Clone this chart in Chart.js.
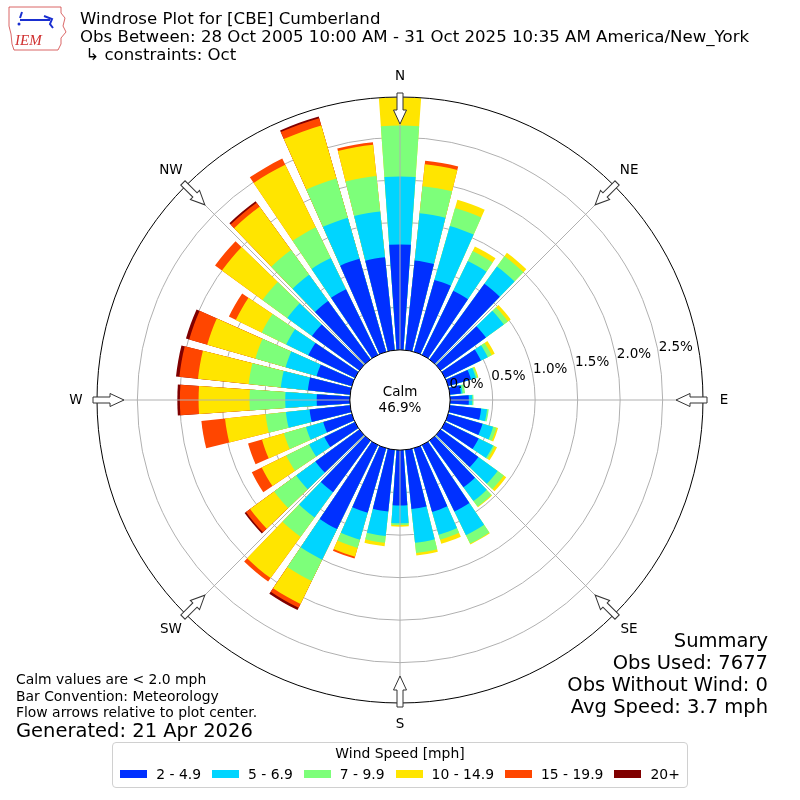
<!DOCTYPE html>
<html>
<head>
<meta charset="utf-8">
<script src="https://cdn.jsdelivr.net/npm/chart.js@4"></script>
<style>
body{margin:0;width:800px;height:800px;position:relative;background:#fff;font-family:"DejaVu Sans",sans-serif;overflow:hidden;color:#000}
#rose{position:absolute;left:0;top:0}
.txt{position:absolute;white-space:pre}
#title{left:80px;top:10px;font-size:16.6px;line-height:18px}
#notes{left:16px;top:671px;font-size:13.9px;line-height:16.5px}
#gen{left:16px;top:719px;font-size:19.5px;line-height:24px}
#summary{right:32px;top:630px;font-size:19.5px;line-height:22px;text-align:right}
#legend{position:absolute;left:112px;top:742px;width:574px;height:44px;border:1px solid #d0d0d0;border-radius:4px;font-size:13.9px;white-space:nowrap}
#legend .ttl{text-align:center;margin-top:2px;height:17px;line-height:17px}
#legend .row{display:flex;justify-content:center;align-items:center;margin-top:3px;height:18px}
#legend .sw{width:27px;height:8px;margin-right:9px}
#legend .it{display:flex;align-items:center;margin-right:11px}
#legend .it:last-child{margin-right:0}
#logo{position:absolute;left:6px;top:4px}
</style>
</head>
<body>
<canvas id="rose" width="800" height="800"></canvas>
<svg id="logo" width="62" height="50" viewBox="0 0 62 50">
  <path d="M3 3 L55 3 L55 9 L59 14 L57 22 L60 28 L55 34 L55 40 L52 46 L8 46 L6 40 L5 30 L3 22 L3 10 Z" fill="none" stroke="#d04040" stroke-width="0.8"/>
  <path d="M14 14 L16 8 M14 16 L44 16 M38 12 L46 15 L44 20 L47 24" fill="none" stroke="#1a2fd0" stroke-width="2"/>
  <circle cx="13" cy="20" r="1.5" fill="#1a2fd0"/>
  <text x="9" y="41" font-family="Liberation Serif,serif" font-style="italic" font-size="15" fill="#d03030">IEM</text>
</svg>
<div id="title" class="txt">Windrose Plot for [CBE] Cumberland
Obs Between: 28 Oct 2005 10:00 AM - 31 Oct 2025 10:35 AM America/New_York
 ↳ constraints: Oct</div>
<div id="notes" class="txt">Calm values are &lt; 2.0 mph
Bar Convention: Meteorology
Flow arrows relative to plot center.</div>
<div id="gen" class="txt">Generated: 21 Apr 2026</div>
<div id="summary" class="txt">Summary
Obs Used: 7677
Obs Without Wind: 0
Avg Speed: 3.7 mph</div>
<div id="legend"><div class="ttl">Wind Speed [mph]</div><div class="row" id="legendRow"></div></div>
<script>
// direction bins (degrees, meteorological)
const directions=[0,10,20,30,40,50,60,70,80,90,100,110,120,130,140,150,160,170,180,190,200,210,220,230,240,250,260,270,280,290,300,310,320,330,340,350]
const speedBins=["2 - 4.9","5 - 6.9","7 - 9.9","10 - 14.9","15 - 19.9","20+"]
const binColors=["#0030ff","#00d5ff","#7dff7a","#ffe500","#ff4600","#800000"]

// percent of obs per direction, per speed bin
const spd2to5=[1.24,1.06,0.88,0.84,1.10,0.66,0.47,0.28,0.13,0.22,0.37,0.42,0.44,0.55,0.68,0.87,0.78,0.70,0.65,0.73,0.79,1.10,0.75,0.64,0.40,0.35,0.48,0.39,0.50,0.43,0.61,0.69,0.85,0.86,1.14,1.10]
const spd5to7=[0.80,0.56,0.66,0.39,0.25,0.26,0.09,0.06,0.02,0.04,0.07,0.13,0.19,0.28,0.20,0.31,0.28,0.40,0.21,0.29,0.33,0.40,0.37,0.28,0.20,0.21,0.28,0.37,0.32,0.38,0.29,0.36,0.38,0.41,0.50,0.54]
const spd7to10=[0.60,0.32,0.22,0.13,0.15,0.06,0.05,0.02,0.03,0.015,0.02,0.04,0.02,0.09,0.08,0.11,0.06,0.12,0.02,0.08,0.10,0.28,0.28,0.32,0.30,0.27,0.24,0.42,0.38,0.37,0.32,0.36,0.36,0.40,0.48,0.42]
const spd10to15=[0.33,0.26,0.10,0.06,0.05,0.04,0.04,0.01,0,0,0,0.02,0.03,0.035,0.01,0.01,0.05,0.03,0.02,0.04,0.11,0.30,0.60,0.35,0.32,0.27,0.48,0.60,0.60,0.59,0.34,0.59,0.63,0.82,0.65,0.37]
const spd15to20=[0,0.04,0,0,0,0,0,0,0,0,0,0,0,0,0,0,0,0,0,0,0.02,0.05,0.05,0.06,0.13,0.17,0.28,0.22,0.22,0.22,0.09,0.10,0.06,0.08,0.09,0.03]
const spd20up=[0,0,0,0,0,0,0,0,0,0,0,0,0,0,0,0,0,0,0,0,0,0.03,0,0.02,0,0,0,0.03,0.04,0.04,0,0,0.02,0,0.02,0]

const tickValues=[0,0.5,1,1.5,2,2.5]
const compassNames=["N","NE","E","SE","S","SW","W","NW"]
const calmPct=46.9

const bins=[spd2to5,spd5to7,spd7to10,spd10to15,spd15to20,spd20up]
const rMin=-0.59,rMax=2.975
const barDeg=8,gapDeg=2

const labels=[]
directions.forEach(d=>labels.push(d+"°",""))

const datasets=bins.map((b,k)=>{
  const data=[]
  directions.forEach((d,i)=>{
    let c=0
    for(let j=0;j<=k;j++)c+=bins[j][i]
    data.push(b[i]>0?c:rMin,rMin)
  })
  return{
    label:speedBins[k],data,borderWidth:0,
    backgroundColor:ctx=>ctx.dataIndex%2?"rgba(0,0,0,0)":binColors[k],
    angle:ctx=>ctx.dataIndex%2?gapDeg:barDeg
  }
})

const roseDecor={
  id:"roseDecor",
  afterDraw(chart){
    const s=chart.scales.r,ctx=chart.ctx
    const cx=s.xCenter,cy=s.yCenter
    const r0=s.getDistanceFromCenterForValue(0)
    const rOut=s.drawingArea
    ctx.save()
    // spokes
    ctx.strokeStyle="#b0b0b0";ctx.lineWidth=1
    compassNames.forEach((n,i)=>{
      const a=(i*45-90)*Math.PI/180
      ctx.beginPath()
      ctx.moveTo(cx+r0*Math.cos(a),cy+r0*Math.sin(a))
      ctx.lineTo(cx+rOut*Math.cos(a),cy+rOut*Math.sin(a))
      ctx.stroke()
    })
    // outer ring
    ctx.strokeStyle="#000"
    ctx.beginPath();ctx.arc(cx,cy,rOut,0,2*Math.PI);ctx.stroke()
    // calm circle
    ctx.fillStyle="#fff"
    ctx.beginPath();ctx.arc(cx,cy,r0,0,2*Math.PI);ctx.fill();ctx.stroke()
    ctx.fillStyle="#000";ctx.font="13.5px 'DejaVu Sans'"
    ctx.textAlign="center";ctx.textBaseline="middle"
    ctx.fillText("Calm",cx,cy-8)
    ctx.fillText(calmPct.toFixed(1)+"%",cx,cy+8)
    // radial tick labels
    ctx.textAlign="left"
    const phi=10*Math.PI/180
    tickValues.forEach(v=>{
      const d=s.getDistanceFromCenterForValue(v)
      ctx.fillText(v.toFixed(1)+"%",cx+d*Math.cos(phi),cy-d*Math.sin(phi)-7)
    })
    // arrows + compass names
    compassNames.forEach((n,i)=>{
      const a=(i*45-90)*Math.PI/180
      ctx.save()
      ctx.translate(cx,cy);ctx.rotate(a)
      const t=rOut+4,h=rOut-13,tip=rOut-27
      ctx.beginPath()
      ctx.moveTo(t,-3);ctx.lineTo(h,-3);ctx.lineTo(h,-6.5);ctx.lineTo(tip,0)
      ctx.lineTo(h,6.5);ctx.lineTo(h,3);ctx.lineTo(t,3);ctx.closePath()
      ctx.fillStyle="#fff";ctx.fill()
      ctx.strokeStyle="#333";ctx.lineWidth=1;ctx.stroke()
      ctx.restore()
      const rl=rOut+21
      ctx.fillStyle="#000";ctx.textAlign="center"
      ctx.fillText(n,cx+rl*Math.cos(a),cy+rl*Math.sin(a))
    })
    ctx.restore()
  }
}

new Chart(document.getElementById("rose"),{
  type:"polarArea",
  data:{labels,datasets},
  options:{
    responsive:false,animation:false,
    layout:{padding:97},
    plugins:{legend:{display:false},tooltip:{enabled:false}},
    scales:{r:{
      min:rMin,max:rMax,startAngle:-barDeg/2,z:1,
      ticks:{display:false},
      grid:{color:"#b0b0b0",lineWidth:1},
      afterBuildTicks:s=>{s.ticks=tickValues.map(v=>({value:v}))}
    }}
  },
  plugins:[roseDecor]
})

const row=document.getElementById("legendRow")
speedBins.forEach((b,k)=>{
  const it=document.createElement("div");it.className="it"
  const sw=document.createElement("div");sw.className="sw";sw.style.background=binColors[k]
  const lb=document.createElement("span");lb.textContent=b
  it.append(sw,lb);row.append(it)
})
</script>
</body>
</html>
